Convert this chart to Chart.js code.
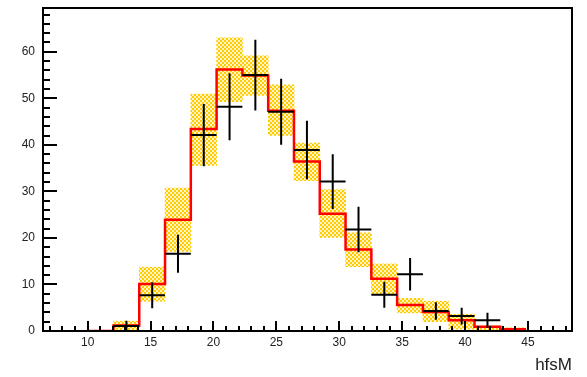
<!DOCTYPE html>
<html>
<head>
<meta charset="utf-8">
<script src="https://cdn.jsdelivr.net/npm/chart.js@4"></script>
<style>
  html, body { margin: 0; padding: 0; background: #fff; }
  #wrap { width: 587px; height: 377px; }
</style>
</head>
<body>
<div id="wrap"><canvas id="hist"></canvas></div>
<script>
/* ================= DATA ================= */

const binEdges = [10.0, 12.05, 14.1, 16.15, 18.2, 20.25, 22.3, 24.35, 26.4, 28.45,
  30.5, 32.55, 34.6, 36.65, 38.7, 40.75, 42.8, 44.85];
const binCenters = [11.03, 13.08, 15.13, 17.18, 19.23, 21.28, 23.33, 25.38, 27.43,
  29.48, 31.53, 33.58, 35.63, 37.68, 39.73, 41.78, 43.83];

// MC histogram (red)
const mcValues = [0, 1.2, 10.1, 23.9, 43.4, 56.2, 54.9, 47.3, 36.4, 25.2, 17.5, 11.2, 5.6, 4.1, 2.3, 0.9, 0.4];
// MC uncertainty band (yellow)
const bandLow = [0, 0, 6.4, 17.1, 35.6, 49.3, 50.6, 42.0, 32.3, 20.1, 13.8, 7.9, 3.9, 2.0, 0.4, 0, 0];
const bandHigh = [0, 2.1, 13.7, 30.7, 50.9, 63.0, 59.1, 52.9, 40.4, 30.4, 21.1, 14.4, 7.0, 6.4, 3.6, 1.1, 0.7];
// data points (black crosses)
const dataValues = [null, 1.1, 7.7, 16.6, 42.1, 48.2, 55.0, 47.1, 38.9, 32.1, 21.8, 7.8, 12.2, 4.3, 3.2, 2.3, null];
const dataErrors = [0, 1.1, 2.8, 4.1, 6.7, 7.2, 7.6, 7.1, 6.3, 5.9, 4.9, 2.8, 3.5, 1.9, 1.8, 1.6, 0];

const xTicks = [10, 15, 20, 25, 30, 35, 40, 45];
const yTicks = [0, 10, 20, 30, 40, 50, 60];
const xTitle = "hfsM";

/* ================= STYLE ================= */

const FONT = "'Liberation Sans', Arial, sans-serif";
const TEXT = "#222";

function checkerPattern() {
  const c = document.createElement("canvas");
  c.width = 4; c.height = 4;
  const g = c.getContext("2d");
  g.fillStyle = "#fff4c8";
  g.fillRect(0, 0, 4, 4);
  g.fillStyle = "#ffcc00";
  g.fillRect(0, 0, 2, 2);
  g.fillRect(2, 2, 2, 2);
  return g.createPattern(c, "repeat");
}

/* ================= PLUGINS ================= */

// data points with error bars, drawn on top
const crossPlugin = {
  id: "crosses",
  afterDatasetsDraw(chart) {
    const { ctx, scales: { x, y } } = chart;
    ctx.save();
    ctx.strokeStyle = "#000";
    ctx.lineWidth = 2;
    dataValues.forEach((v, i) => {
      if (v === null) return;
      const py = y.getPixelForValue(v);
      const px = x.getPixelForValue(binCenters[i]);
      ctx.beginPath();
      ctx.moveTo(x.getPixelForValue(binEdges[i]), py);
      ctx.lineTo(x.getPixelForValue(binEdges[i + 1]), py);
      ctx.moveTo(px, y.getPixelForValue(v + dataErrors[i]));
      ctx.lineTo(px, y.getPixelForValue(Math.max(0, v - dataErrors[i])));
      ctx.stroke();
    });
    ctx.restore();
  },
};

// ROOT style frame with inward ticks
const framePlugin = {
  id: "frame",
  afterDraw(chart) {
    const { ctx, chartArea: a } = chart;
    const xs = chart.scales.x;
    const ys = chart.scales.y;
    ctx.save();
    ctx.strokeStyle = "#000";
    ctx.fillStyle = "#000";
    ctx.lineWidth = 2;
    ctx.strokeRect(a.left, a.top, a.right - a.left, a.bottom - a.top);

    // x ticks, pointing up
    for (let v = 7; v <= 48; v++) {
      const px = Math.round(xs.getPixelForValue(v));
      const len = v % 5 === 0 ? 10 : 5;
      ctx.fillRect(px - 1, a.bottom - len, 2, len);
    }
    // y ticks, pointing right
    for (let v = 0; v <= 68; v += 2) {
      const py = Math.round(ys.getPixelForValue(v));
      const len = v % 10 === 0 ? 14 : 7;
      ctx.fillRect(a.left, py - 1, len, 2);
    }
    ctx.restore();
  },
};

/* ================= CHART ================= */

new Chart(document.getElementById("hist"), {
  type: "bar",
  data: {
    datasets: [
      {
        type: "line",
        data: binEdges.map((e, i) => ({ x: e, y: mcValues[Math.min(i, mcValues.length - 1)] })),
        borderColor: "#ff0000",
        borderWidth: 2.5,
        stepped: "before",
        pointRadius: 0,
        fill: false,
        order: 1,
      },
      {
        type: "bar",
        data: binCenters.map((c, i) => ({ x: c, y: [bandLow[i], bandHigh[i]] })),
        backgroundColor: checkerPattern(),
        borderWidth: 0,
        barPercentage: 1,
        categoryPercentage: 1,
        order: 2,
      },
    ],
  },
  options: {
    responsive: true,
    maintainAspectRatio: false,
    animation: false,
    events: [],
    layout: { padding: { top: 8, right: 15, left: 0, bottom: 0 } },
    plugins: { legend: { display: false }, tooltip: { enabled: false } },
    scales: {
      x: {
        type: "linear",
        offset: false,
        min: 6.45,
        max: 48.5,
        grid: { display: false, drawTicks: false, offset: false },
        border: { display: false },
        afterBuildTicks: (s) => { s.ticks = xTicks.map(v => ({ value: v })); },
        afterFit: (s) => { s.height = 46; s.paddingLeft = 0; s.paddingRight = 0; },
        ticks: { padding: 4, font: { family: FONT, size: 12 }, color: TEXT, maxRotation: 0 },
        title: {
          display: true, text: xTitle, align: "end", color: TEXT,
          font: { family: FONT, size: 17 }, padding: { top: 0, bottom: 1 },
        },
      },
      y: {
        type: "linear",
        min: 0,
        max: 69.4,
        grid: { display: false, drawTicks: false },
        border: { display: false },
        afterBuildTicks: (s) => { s.ticks = yTicks.map(v => ({ value: v })); },
        afterFit: (s) => { s.width = 43; s.paddingTop = 0; s.paddingBottom = 0; },
        ticks: { padding: 8, font: { family: FONT, size: 12 }, color: TEXT },
      },
    },
  },
  plugins: [crossPlugin, framePlugin],
});
</script>
</body>
</html>
